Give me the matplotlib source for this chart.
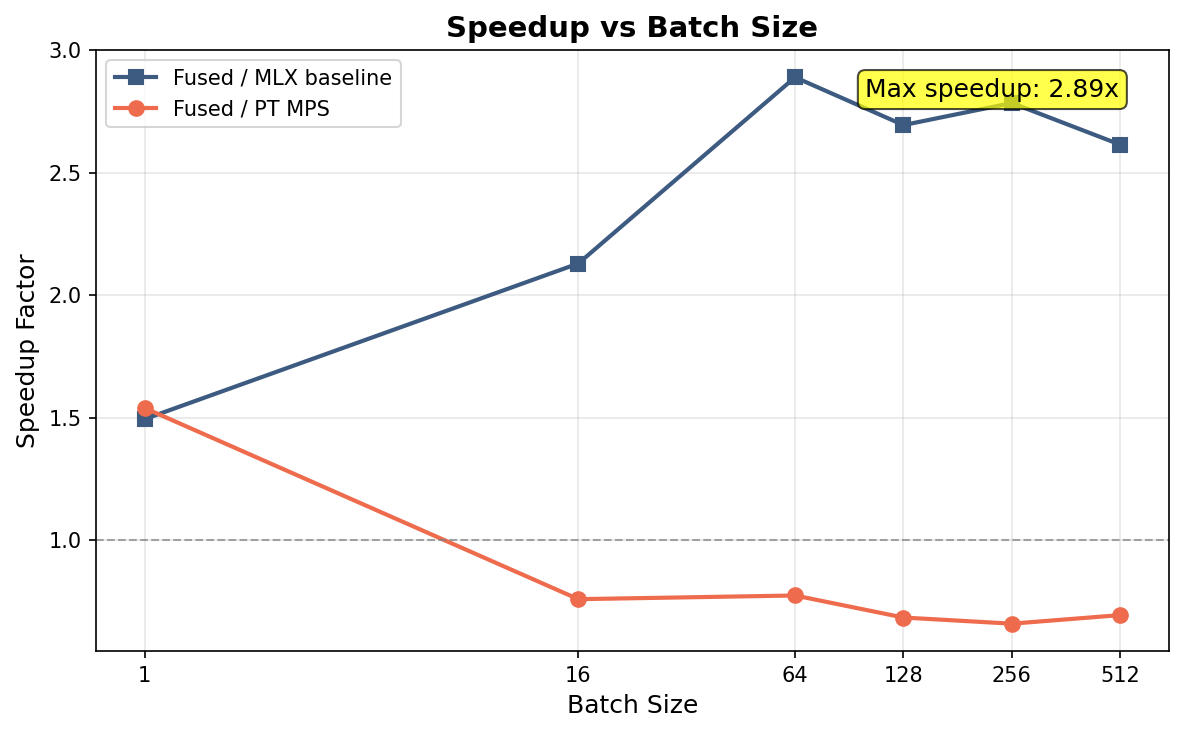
import numpy as np
import matplotlib.pyplot as plt

batch_sizes = [1, 16, 64, 128, 256, 512]
mlx_speedup = [1.495, 2.13, 2.89, 2.695, 2.785, 2.615]
pt_speedup = [1.54, 0.76, 0.775, 0.685, 0.66, 0.695]

fig, ax = plt.subplots(figsize=(7.9, 4.9), dpi=150)
fig.subplots_adjust(left=0.081, right=0.9865, top=0.932, bottom=0.1143)

ax.plot(batch_sizes, mlx_speedup, marker="s", color="#3d5a80", linewidth=2,
        markersize=7, label="Fused / MLX baseline")
ax.plot(batch_sizes, pt_speedup, marker="o", color="#ee6c4d", linewidth=2,
        markersize=7, label="Fused / PT MPS")
ax.axhline(1.0, color="gray", linestyle="--", linewidth=1, alpha=0.7)

ax.set_xscale("log", base=2)
ax.set_xticks(batch_sizes)
ax.set_xticklabels([str(b) for b in batch_sizes])
ax.minorticks_off()

best = max(mlx_speedup)
ax.text(226, 2.84, f"Max speedup: {best:.2f}x", fontsize=12, ha="center", va="center",
        bbox=dict(boxstyle="round,pad=0.3", facecolor="yellow", alpha=0.7))

ax.set_xlabel("Batch Size", fontsize=12)
ax.set_ylabel("Speedup Factor", fontsize=12)
ax.set_title("Speedup vs Batch Size", fontsize=14, fontweight="bold")
ax.grid(True, alpha=0.3)
ax.legend(loc="upper left")

fig.savefig("out.png", dpi=150)
